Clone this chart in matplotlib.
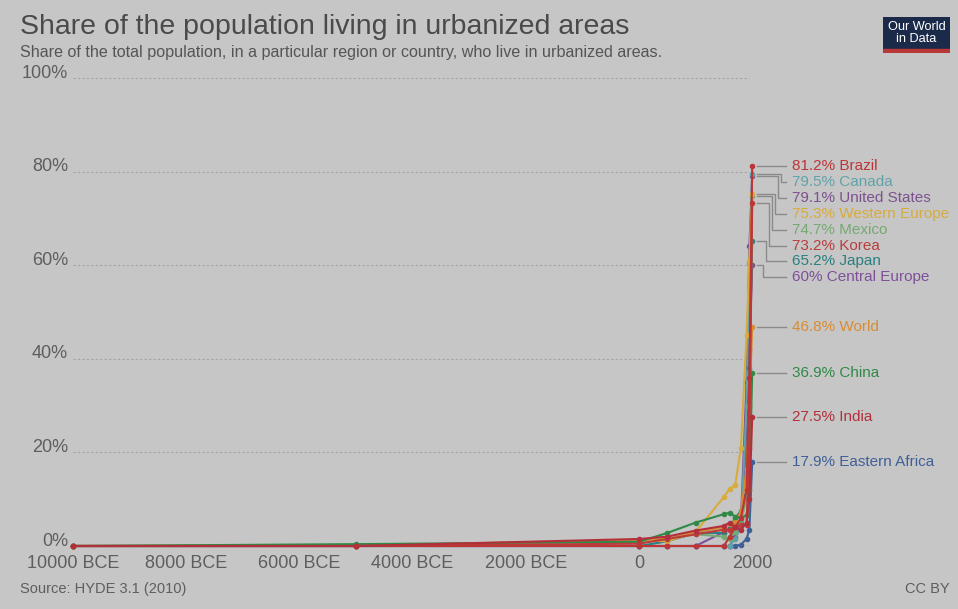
import matplotlib
matplotlib.use("Agg")
import matplotlib.pyplot as plt
from matplotlib import transforms
import numpy as np

plt.rcParams['font.family'] = ['Liberation Sans', 'DejaVu Sans']

years = [-10000, -5000, 0, 500, 1000, 1500, 1600, 1700, 1800, 1900, 1950, 2000]

xtick_values = [-10000, -8000, -6000, -4000, -2000, 0, 2000]
xtick_labels = ["10000 BCE", "8000 BCE", "6000 BCE", "4000 BCE", "2000 BCE", "0", "2000"]
ytick_values = [0, 20, 40, 60, 80, 100]
ytick_labels = ["0%", "20%", "40%", "60%", "80%", "100%"]

eastern_africa = [0, 0, 0, 0, 0, 0, 0, 0, 0.3, 1.5, 3.5, 17.9]
central_europe = [0, 0, 0, 0, 0, 3.0, 3.5, 4.5, 5.0, 22.0, 42.0, 60.0]
united_states = [0, 0, 0, 0, 0, 0, 0, 2.0, 5.0, 35.0, 64.0, 79.1]
canada = [0, 0, 0, 0, 0, 0, 0, 1.5, 4.0, 30.0, 60.5, 79.5]
japan = [0, 0, 0, 1.0, 2.8, 2.8, 3.8, 6.0, 7.5, 12.0, 38.0, 65.2]
mexico = [0, 0, 1.0, 1.5, 2.5, 2.0, 1.5, 3.0, 5.5, 10.0, 30.0, 74.7]
western_europe = [0, 0, 1.2, 1.0, 3.0, 10.5, 12.2, 13.0, 21.0, 45.0, 61.0, 75.3]
world = [0, 0.1, 1.3, 1.5, 3.0, 4.0, 4.8, 5.2, 7.3, 16.4, 29.6, 46.8]
china = [0, 0.4, 0.9, 2.8, 5.0, 6.8, 7.1, 6.3, 6.0, 6.6, 12.0, 36.9]
korea = [0, 0, 0.5, 1.5, 2.5, 3.5, 3.5, 4.0, 4.5, 4.5, 21.0, 73.2]
brazil = [0, 0, 0, 0, 0, 0, 2.0, 4.0, 6.0, 12.0, 36.0, 81.2]
india = [0, 0, 1.5, 2.0, 3.3, 4.3, 5.0, 4.0, 3.5, 5.0, 10.0, 27.5]

series_names = ["Eastern Africa", "Central Europe", "United States", "Canada", "Japan",
                "Mexico", "Western Europe", "World", "China", "Korea", "Brazil", "India"]
series_values = [eastern_africa, central_europe, united_states, canada, japan,
                 mexico, western_europe, world, china, korea, brazil, india]
series_colors = ["#3f5f97", "#7e4f9b", "#7d5190", "#5fa3aa", "#2b7f80",
                 "#74aa72", "#d8ab3c", "#d88c32", "#2f8a48", "#bb3c3c", "#bd3535", "#b2303b"]

BG = "#c6c6c6"
W, H = 958, 609
fig = plt.figure(figsize=(W / 100, H / 100), dpi=100, facecolor=BG)
left_px, right_px, top_px, bottom_px = 73, 752.2, 78, 546
ax = fig.add_axes([left_px / W, 1 - bottom_px / H, (right_px - left_px) / W, (bottom_px - top_px) / H])
ax.set_facecolor(BG)
ax.set_xlim(-10000, 2000)
ax.set_ylim(0, 100)
for s in ax.spines.values():
    s.set_visible(False)
ax.set_xticks([])
ax.set_yticks([])

# gridlines
for v in ytick_values[1:]:
    ax.plot([-10000, 1950], [v, v], linestyle=(0, (2, 2)), color="#a4a4a4", lw=0.8, zorder=1)
ax.plot([-10000, 2000], [0, 0], color="#a0a0a0", lw=1.0, zorder=1)

blend = transforms.blended_transform_factory(fig.transFigure, ax.transData)
ylab_tr = blend + transforms.ScaledTranslation(0, 5 / 100, fig.dpi_scale_trans)
for v, lab in zip(ytick_values, ytick_labels):
    ax.text(68 / W, v, lab, transform=ylab_tr, ha="right", va="center",
            fontsize=13, color="#5e5e5e", clip_on=False)

xlab_tr = transforms.blended_transform_factory(ax.transData, fig.transFigure)
for v, lab in zip(xtick_values, xtick_labels):
    ax.text(v, 1 - 563 / H, lab, transform=xlab_tr, ha="center", va="center",
            fontsize=13, color="#5e5e5e", clip_on=False)

# series
for name, vals, col in zip(series_names, series_values, series_colors):
    ax.plot(years, vals, color=col, lw=1.5, marker="o", markersize=3.0, zorder=3,
            clip_on=False)

# labels with simple de-overlap
order = sorted(range(len(series_names)), key=lambda i: -series_values[i][-1])
gap = 3.4
label_y = {}
prev = None
for i in order:
    v = series_values[i][-1]
    y = v if prev is None else min(v, prev - gap)
    label_y[i] = y
    prev = y

k = 0
for i in order:
    v = series_values[i][-1]
    y = label_y[i]
    col = series_colors[i]
    if abs(v - y) < 0.05:
        xs = [757 / W, 786 / W]
        ys = [v, v]
    else:
        ex = 781 - 3 * k
        k += 1
        xs = [757 / W, ex / W, ex / W, 786 / W]
        ys = [v, v, y, y]
    ax.plot(xs, ys, transform=blend, color="#8a8a8a", lw=1.0, clip_on=False, zorder=2)
    txt = f"{v:g}% {series_names[i]}"
    ax.text(792 / W, y, txt, transform=blend, ha="left", va="center",
            fontsize=11, color=col, clip_on=False)

# titles
fig.text(20 / W, 1 - 27 / H, "Share of the population living in urbanized areas",
         fontsize=20.5, color="#4a4a4a", ha="left", va="center")
fig.text(20 / W, 1 - 52 / H,
         "Share of the total population, in a particular region or country, who live in urbanized areas.",
         fontsize=11.6, color="#555555", ha="left", va="center")
fig.text(20 / W, 1 - 589 / H, "Source: HYDE 3.1 (2010)", fontsize=10.5, color="#5e5e5e",
         ha="left", va="center")
fig.text(950 / W, 1 - 589 / H, "CC BY", fontsize=10.5, color="#5e5e5e",
         ha="right", va="center")

# logo
logo = fig.add_axes([883 / W, 1 - 53 / H, 67 / W, 36 / H])
logo.set_xlim(0, 1)
logo.set_ylim(0, 1)
logo.axis("off")
logo.add_patch(plt.Rectangle((0, 0.1), 1, 0.9, color="#1c2a4a"))
logo.add_patch(plt.Rectangle((0, 0), 1, 0.1, color="#b83838"))
logo.text(0.5, 0.56, "Our World\nin Data", ha="center", va="center", color="white",
          fontsize=9.2, linespacing=0.95)

fig.savefig("out.png", dpi=100, facecolor=BG)
